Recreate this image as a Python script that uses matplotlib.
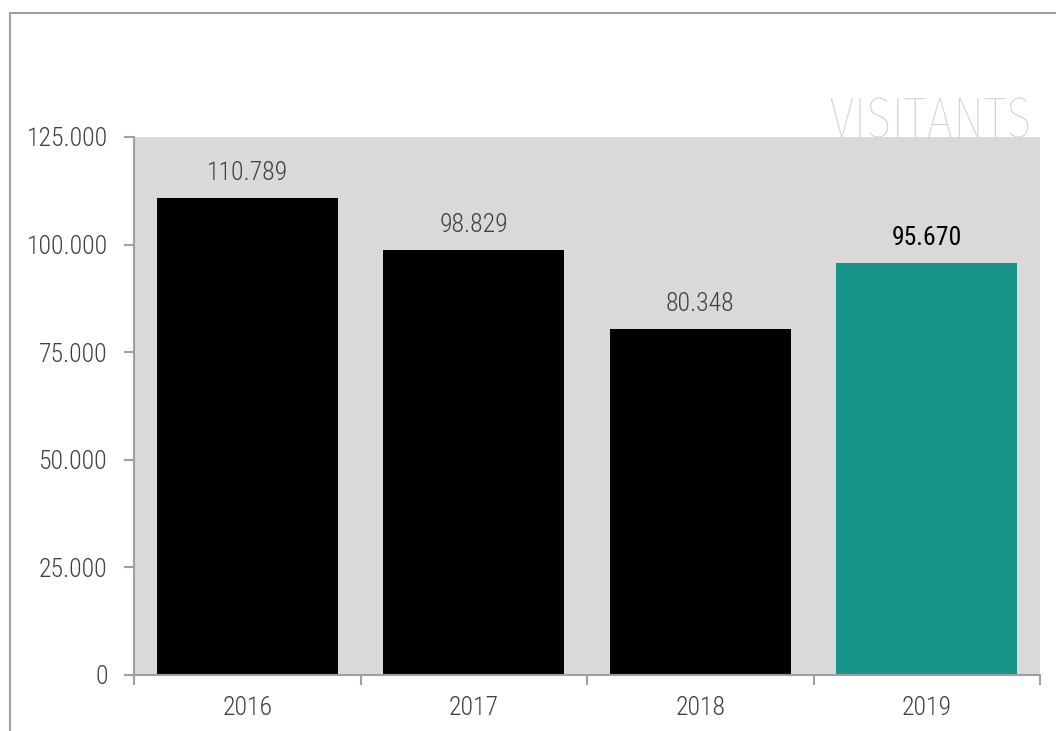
import matplotlib.pyplot as plt
from matplotlib.patches import Rectangle
from matplotlib.ticker import FuncFormatter, FixedLocator
import numpy as np

years = ['2016', '2017', '2018', '2019']
visitants = [110789, 98829, 80348, 95670]
bar_colors = ['#000000', '#000000', '#000000', '#17958a']
label_colors = ['#404040', '#404040', '#404040', '#000000']

plt.rcParams['font.family'] = ['Roboto Condensed', 'Roboto', 'DejaVu Sans']
plt.rcParams['font.weight'] = 'light'

fig = plt.figure(figsize=(10.56, 7.31), dpi=100)
ax = fig.add_axes([134 / 1056, 1 - 675 / 731, (1040 - 134) / 1056, (675 - 137) / 731])

# frame around the whole chart (open at right and bottom as in the original)
fig.patches.append(Rectangle((10 / 1056, -0.1), 2, 0.1 + 1 - 13 / 731,
                             transform=fig.transFigure, fill=False,
                             edgecolor='#a0a0a0', linewidth=1.5))

x = np.arange(len(years))
ax.set_facecolor('#d9d9d9')
ax.bar(x, visitants, width=0.8, color=bar_colors)

def fmt(v):
    return f'{v:,.0f}'.replace(',', '.')

for xi, v, c in zip(x, visitants, label_colors):
    ax.annotate(fmt(v), (xi, v), xytext=(0, 13), textcoords='offset points',
                ha='center', va='baseline', fontsize=18.5, color=c,
                fontweight='light' if c != '#000000' else 'normal')

ax.set_xlim(-0.5, len(years) - 0.5)
ax.set_ylim(0, 125000)
ax.set_yticks(np.arange(0, 125001, 25000))
ax.yaxis.set_major_formatter(FuncFormatter(lambda v, p: fmt(v)))

ax.set_xticks(x)
ax.set_xticklabels(years)
ax.xaxis.set_minor_locator(FixedLocator(np.arange(-0.5, len(years), 1.0)))
ax.tick_params(axis='x', which='major', length=0, pad=15, labelsize=18.5, labelcolor='#404040')
ax.tick_params(axis='x', which='minor', length=7, width=1.5, color='#a0a0a0', direction='out')
ax.tick_params(axis='y', length=7, width=1.5, color='#a0a0a0', pad=12, labelsize=18.5, labelcolor='#404040')

for s in ['top', 'right']:
    ax.spines[s].set_visible(False)
for s in ['left', 'bottom']:
    ax.spines[s].set_color('#a0a0a0')
    ax.spines[s].set_linewidth(1.5)

fig.text(1032 / 1056, 1 - 137 / 731, 'VISITANTS', ha='right', va='baseline',
         fontsize=41, color='#d4d4d4', fontweight=250,
         family=['Fira Sans Extra Condensed', 'Roboto Condensed', 'DejaVu Sans'])

fig.savefig('out.png', dpi=100)
